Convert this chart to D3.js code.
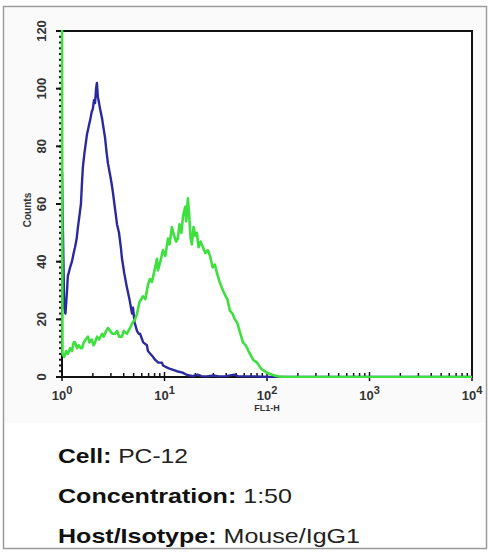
<!DOCTYPE html>
<html><head><meta charset="utf-8">
<script src="https://cdn.jsdelivr.net/npm/d3@7"></script>
<style>body{margin:0;background:#fff}svg{display:block}</style></head>
<body><svg id="c" width="488" height="552"></svg>
<script>
// ---- data ----
const blueX=[1,1.05,1.08,1.12,1.14,1.2,1.25,1.3,1.34,1.39,1.43,1.48,1.53,1.57,1.6,1.66,1.72,1.75,1.8,1.85,1.88,1.95,2.0,2.05,2.1,2.15,2.19,2.24,2.3,2.35,2.45,2.55,2.63,2.72,2.81,2.95,3.05,3.14,3.3,3.44,3.6,3.75,3.85,4.05,4.3,4.55,4.82,4.93,5.1,5.39,5.6,5.77,6.2,6.74,6.89,7.3,7.72,8.08,8.7,9.44,9.66,11,13.2,15,16.6,19,21,23,26,30,34,40,48,52,60,75,90,110,10000];
const blueY=[71,24,22,30,35,38,40,43,45,48,52,56,60,68,73,78,82,84,86,88,89,92,93,96,95,100,102,97,95,93,90,86,83,78,74,70,67,64,58,53,50,45,41,36,31,27,22,24,19,16,15,15,12,11,9,8,7,6,5,5,4,3,2,1.5,0.7,0.3,0.8,0.3,0.2,0.5,0.2,0.3,0.8,0.3,0.2,0.2,0.1,0,0];
const greenX=[1,1.01,1.05,1.1,1.14,1.2,1.25,1.3,1.34,1.4,1.46,1.52,1.57,1.63,1.7,1.79,1.85,1.95,2.03,2.1,2.2,2.3,2.46,2.55,2.7,2.81,2.95,3.1,3.29,3.45,3.6,3.85,4.0,4.3,4.61,4.9,5.16,5.4,5.7,6.17,6.5,6.9,7.21,7.54,8.0,8.44,8.63,9.1,9.66,10.2,10.8,11.2,11.8,12.4,13,13.5,14,14.6,15.2,15.9,16.3,16.9,17.4,18,18.5,19.2,20,20.7,21.5,22.5,23.7,25,26.5,27.8,29.5,31,32.5,34.5,37.2,39.5,41,43.5,46,48.5,50.9,54,58.3,62,66,73.1,80,87,91.5,100,114,130,150,10000];
const greenY=[130,8,7,9,8,10,9,12,12,10,11,10,10,12,13,14,12,13,11,12,14,13,15,14,16,17,16,15,15,16,14,14,16,15,17,19,20,22,26,28,27,32,34,33,37,41,37,40,44,42,48,46,52,49,47,48,53,50,56,59,54,62,56,48,46,52,49,50,45,47,45,43,44,42,38,39,36,33,30,28,27,23,22,20,19,16,12,11,9,6,5,3,2.4,1.5,0.7,0.2,0,0];
const yTicks=[0,20,40,60,80,100,120];
const xDecades=[0,1,2,3,4];
const infoLabels=[["Cell:","PC-12"],["Concentration:","1:50"],["Host/Isotype:","Mouse/IgG1"]];
const infoWidths=[130,234,302];

const svg=d3.select("#c");
const L=62,R=472,T=31,B=377;
const x=d3.scaleLog().domain([1,10000]).range([L,R]);
const y=d3.scaleLinear().domain([0,120]).range([B,T]);
const FF="Liberation Sans, Arial, sans-serif";

// outer frame
svg.append("rect").attr("x",3.5).attr("y",6.5).attr("width",483).attr("height",542)
  .attr("fill","#fff").attr("stroke","#9a9a9a").attr("stroke-width",1.5);
svg.append("rect").attr("x",5).attr("y",8).attr("width",480).attr("height",415).attr("fill","#fafafa");
svg.append("rect").attr("x",L).attr("y",T).attr("width",R-L).attr("height",B-T).attr("fill","#fff");

// y minor ticks
const minor=d3.range(0,121,2);
svg.append("g").selectAll("line").data(minor).join("line")
  .attr("x1",L-3).attr("x2",L).attr("y1",d=>y(d)).attr("y2",d=>y(d))
  .attr("stroke","#111").attr("stroke-width",2);
svg.append("g").selectAll("line").data(yTicks).join("line")
  .attr("x1",L-6).attr("x2",L).attr("y1",d=>y(d)).attr("y2",d=>y(d))
  .attr("stroke","#111").attr("stroke-width",2);
// y labels
svg.append("g").selectAll("text").data(yTicks).join("text")
  .attr("transform",d=>`translate(46,${y(d)}) rotate(-90)`)
  .attr("text-anchor","middle").attr("font-family",FF)
  .attr("font-size",13).attr("font-weight","bold").attr("fill","#333").text(d=>d);
svg.append("text").attr("transform","translate(31,210) rotate(-90)")
  .attr("text-anchor","middle").attr("font-family",FF)
  .attr("font-size",10).attr("font-weight","bold").attr("fill","#333").text("Counts");

// x minor ticks
const xMinor=[];
for(let e=0;e<4;e++) for(let k=2;k<=9;k++) xMinor.push(k*Math.pow(10,e));
svg.append("g").selectAll("line").data(xMinor).join("line")
  .attr("x1",d=>x(d)).attr("x2",d=>x(d)).attr("y1",B-4).attr("y2",B)
  .attr("stroke","#111").attr("stroke-width",1.5);
svg.append("g").selectAll("line").data(xDecades).join("line")
  .attr("x1",d=>x(Math.pow(10,d))).attr("x2",d=>x(Math.pow(10,d))).attr("y1",B-5).attr("y2",B+4)
  .attr("stroke","#111").attr("stroke-width",1.5);
const xl=svg.append("g").selectAll("text").data(xDecades).join("text")
  .attr("x",d=>x(Math.pow(10,d))).attr("y",400).attr("text-anchor","middle")
  .attr("font-family",FF).attr("font-size",13)
  .attr("font-weight","bold").attr("fill","#333");
xl.append("tspan").text("10");
xl.append("tspan").attr("dy",-6).attr("font-size",11).text(d=>d);
svg.append("text").attr("x",x(100)).attr("y",411).attr("text-anchor","middle")
  .attr("font-family",FF).attr("font-size",9)
  .attr("font-weight","bold").attr("fill","#333").text("FL1-H");

// box
svg.append("rect").attr("x",L).attr("y",T).attr("width",R-L).attr("height",B-T)
  .attr("fill","none").attr("stroke","#111").attr("stroke-width",2);

// curves
svg.append("clipPath").attr("id","cp").append("rect").attr("x",L-1.5).attr("y",T-1).attr("width",R-L+3).attr("height",B-T+2);
const line=d3.line().x(d=>x(d[0])).y(d=>y(d[1]));
svg.append("path").attr("clip-path","url(#cp)").attr("d",line(blueX.map((v,i)=>[v,blueY[i]])))
  .attr("fill","none").attr("stroke","#2a2a9e").attr("stroke-width",2.4).attr("stroke-linejoin","round");
svg.append("path").attr("clip-path","url(#cp)").attr("d",line(greenX.map((v,i)=>[v,greenY[i]])))
  .attr("fill","none").attr("stroke","#3ee03e").attr("stroke-width",2.6).attr("stroke-linejoin","round");

// info text
const rows=[463,503,543];
infoLabels.forEach((r,i)=>{
  const t=svg.append("text").attr("x",58).attr("y",rows[i])
    .attr("font-family",FF).attr("font-size",21).attr("fill","#111")
    .attr("textLength",infoWidths[i]).attr("lengthAdjust","spacingAndGlyphs");
  t.append("tspan").attr("font-weight","bold").text(r[0]+" ");
  t.append("tspan").attr("fill","#222").text(r[1]);
});
</script></body></html>
